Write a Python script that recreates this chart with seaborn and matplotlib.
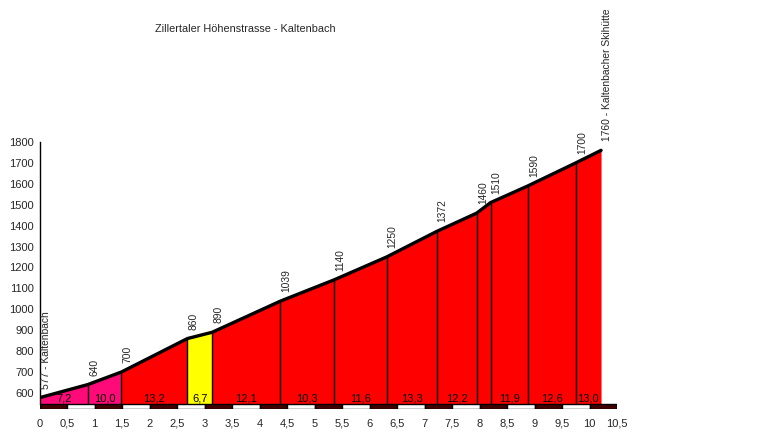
import numpy as np
import seaborn as sns
import matplotlib
matplotlib.use("Agg")
import matplotlib.pyplot as plt

# profile points (km, m)
km = [0, 0.88, 1.49, 2.69, 3.14, 4.38, 5.35, 6.31, 7.22, 7.95, 8.20, 8.88, 9.75, 10.21]
elev = [577, 640, 700, 860, 890, 1039, 1140, 1250, 1372, 1460, 1510, 1590, 1700, 1760]
start_name = "Kaltenbach"
end_name = "Kaltenbacher Skihütte"

# gradient per segment (%), label printed under each segment ('' = too narrow)
grades = [7.2, 10.0, 13.2, 6.7, 12.1, 10.3, 11.6, 13.3, 12.2, 20.0, 11.9, 12.6, 13.0]
grade_labels = ["7,2", "10,0", "13,2", "6,7", "12,1", "10,3", "11,6", "13,3", "12,2", "", "11,9", "12,6", "13,0"]

x_ticks = np.arange(0, 11, 0.5)
x_ticklabels = ["0", "0,5", "1", "1,5", "2", "2,5", "3", "3,5", "4", "4,5", "5", "5,5",
                "6", "6,5", "7", "7,5", "8", "8,5", "9", "9,5", "10", "10,5"]
y_ticks = list(range(600, 1900, 100))

title = "Zillertaler Höhenstrasse - Kaltenbach"

base = 547      # bottom of the coloured area
bar_bottom = 523  # bottom of the km scale bar

sns.set_style("white")
plt.rcParams["font.family"] = ["Liberation Sans", "DejaVu Sans"]

fig = plt.figure(figsize=(7.8, 4.34), dpi=100)
ax = fig.add_axes([39.5 / 780, 1 - 409 / 434, (617 - 39.5) / 780, (409 - 142) / 434])


def grade_color(g):
    if g < 7:
        return "#ffff00"
    if g <= 10:
        return "#ff0a78"
    return "#ff0000"


# coloured segments
for i in range(len(grades)):
    ax.fill_between(km[i:i + 2], base, elev[i:i + 2], color=grade_color(grades[i]), lw=0, zorder=1)
    if grade_labels[i]:
        ax.text((km[i] + km[i + 1]) / 2, base + 3, grade_labels[i], ha="center", va="bottom",
                fontsize=8, color="black", zorder=4)

# separators between segments
ax.vlines(km[1:-1], base, elev[1:-1], color="black", lw=1, zorder=2)

# profile line
sns.lineplot(x=km, y=elev, color="black", lw=2.4, ax=ax, zorder=3)

# elevation labels
labels = [str(e) for e in elev]
labels[0] = f"{elev[0]} - {start_name}"
labels[-1] = f"{elev[-1]} - {end_name}"
for x, y, t in zip(km, elev, labels):
    ax.annotate(t, (x, y), xytext=(0.8, 6.5), textcoords="offset points", rotation=90,
                ha="left", va="bottom", fontsize=7.4, annotation_clip=False)

# km scale bar
bar_cols = ["#400000" if i % 2 == 0 else "white" for i in range(len(x_ticks) - 1)]
ax.bar(x_ticks[:-1], base - bar_bottom, width=0.5, bottom=bar_bottom, align="edge",
       color=bar_cols, edgecolor="black", lw=1, zorder=2)

ax.set_xlim(0, 10.5)
ax.set_ylim(bar_bottom, 1800)
ax.set_xticks(x_ticks, x_ticklabels)
ax.set_yticks(y_ticks)
ax.tick_params(axis="x", length=0, pad=7, labelsize=8)
ax.tick_params(axis="y", direction="in", length=3, color="red", width=1, pad=4, labelsize=8)
ax.set_xlabel("")
ax.set_ylabel("")

for s in ["top", "right", "bottom"]:
    ax.spines[s].set_visible(False)
ax.spines["left"].set_bounds(base, 1800)
ax.spines["left"].set_color("black")
ax.spines["left"].set_linewidth(1)

fig.text(245 / 780, 1 - 29 / 434, title, ha="center", va="center", fontsize=7.8)

fig.savefig("out.png", dpi=100)
